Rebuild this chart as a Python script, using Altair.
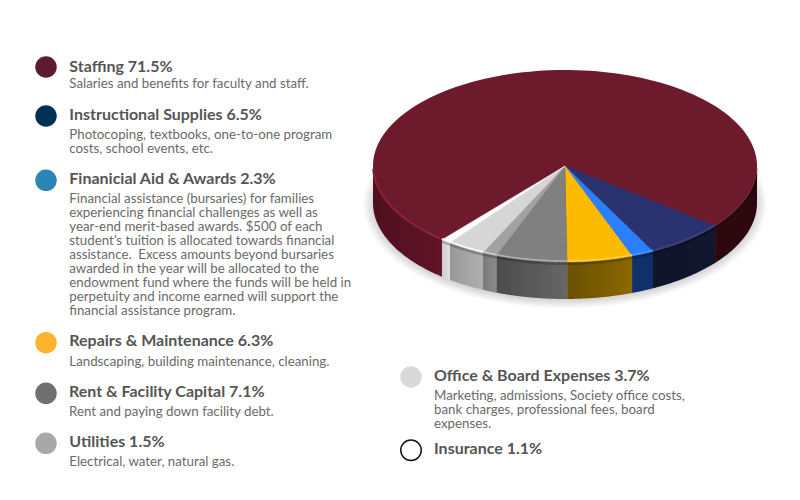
import altair as alt
import numpy as np
import pandas as pd

# ---- data -----------------------------------------------------------------
categories = ["Staffing", "Instructional Supplies", "Finanicial Aid & Awards",
              "Repairs & Maintenance", "Rent & Facility Capital", "Utilities",
              "Office & Board Expenses", "Insurance"]
label_shares = [71.5, 6.5, 2.3, 6.3, 7.1, 1.5, 3.7, 1.1]
# share of the disc each slice visibly takes in the drawing, clockwise from the navy slice
drawn_order = ["Instructional Supplies", "Finanicial Aid & Awards", "Repairs & Maintenance",
               "Rent & Facility Capital", "Utilities", "Office & Board Expenses",
               "Insurance", "Staffing"]
drawn_shares = [6.7, 1.9, 5.5, 6.0, 1.2, 3.2, 0.85, 74.65]
descriptions = [
    ["Salaries and benefits for faculty and staff."],
    ["Photocoping, textbooks, one-to-one program", "costs, school events, etc."],
    ["Financial assistance (bursaries) for families",
     "experiencing financial challenges as well as",
     "year-end merit-based awards. $500 of each",
     "student\u2019s tuition is allocated towards financial",
     "assistance.\u00a0 Excess amounts beyond bursaries",
     "awarded in the year will be allocated to the",
     "endowment fund where the funds will be held in",
     "perpetuity and income earned will support the",
     "financial assistance program."],
    ["Landscaping, building maintenance, cleaning."],
    ["Rent and paying down facility debt."],
    ["Electrical, water, natural gas."],
    ["Marketing, admissions, Society office costs,",
     "bank charges, professional fees, board", "expenses."],
    [],
]

# ---- styles ---------------------------------------------------------------
dot_colors = ["#5c1a33", "#003153", "#2a86b5", "#ffb32e", "#707070", "#a8a8a8", "#d9d9d9", "#ffffff"]
top_colors = {"Staffing": "#6d1a2d", "Instructional Supplies": "#2a336f",
              "Finanicial Aid & Awards": "#2a7fff", "Repairs & Maintenance": "#fdbb00",
              "Rent & Facility Capital": "#808080", "Utilities": "#a2a2a2",
              "Office & Board Expenses": "#d6d6d6", "Insurance": "#ffffff"}
side_colors = {"Instructional Supplies": ("#11162f", "#10152b"),
               "Finanicial Aid & Awards": ("#10306a", "#10306a"),
               "Repairs & Maintenance": ("#8a6800", "#6a5100"),
               "Rent & Facility Capital": ("#666666", "#4c4c4c"),
               "Utilities": ("#8a8a8a", "#7a7a7a"),
               "Office & Board Expenses": ("#b0b0b0", "#989898"),
               "Insurance": ("#e2e2e2", "#cccccc")}
rim_colors = {"Repairs & Maintenance": "#ffd24d", "Rent & Facility Capital": "#b4b4b4",
              "Utilities": "#d0d0d0", "Office & Board Expenses": "#ffffff",
              "Insurance": "#ffffff", "Finanicial Aid & Awards": "#4a95ff",
              "Instructional Supplies": "#3a4585"}
TITLE_FONT, BODY_FONT = "Lato", "Lato"
TITLE_COLOR, BODY_COLOR = "#555555", "#6a6a6a"

# ---- canvas ---------------------------------------------------------------
W, H = 784, 484
X = alt.X("x:Q", scale=alt.Scale(domain=[8, 8 + W], range=[0, W], nice=False, zero=False), axis=None)
Y = alt.Y("y:Q", scale=alt.Scale(domain=[8, 8 + H], range=[0, H], nice=False, zero=False), axis=None)
CX, CY, RX, RY, DEPTH = 565.0, 166.0, 192.0, 96.0, 37.0


def rim(a, b, dy=0.0, rx=RX, ry=RY, n=60):
    t = np.radians(np.linspace(a, b, n))
    return CX + rx * np.cos(t), CY + dy + ry * np.sin(t)


def poly(xs, ys, **mark):
    df = pd.DataFrame({"x": xs, "y": ys, "i": np.arange(len(xs))})
    return alt.Chart(df).mark_line(interpolate="linear-closed", clip=False, **mark).encode(
        x=X, y=Y, order=alt.Order("i:Q"))


def path(xs, ys, **mark):
    df = pd.DataFrame({"x": xs, "y": ys, "i": np.arange(len(xs))})
    return alt.Chart(df).mark_line(**mark).encode(x=X, y=Y, order=alt.Order("i:Q"))


def hgrad(c0, c1):
    return alt.Gradient(gradient="linear", x1=0, x2=1, y1=0, y2=0,
                        stops=[alt.GradientStop(color=c0, offset=0),
                               alt.GradientStop(color=c1, offset=1)])


def wall(a, b, fill):
    x0, y0 = rim(a, b)
    x1, y1 = rim(b, a, DEPTH)
    return poly(np.r_[x0, x1], np.r_[y0, y1], fill=fill, strokeWidth=0)


# ---- pie: slice boundaries from the drawn shares ---------------------------
edges = np.r_[0, np.cumsum(drawn_shares)] * 3.6
start = 38.6
spans = {c: (start + edges[i], start + edges[i + 1]) for i, c in enumerate(drawn_order)}

layers = []
# soft shadow
for k in range(7):
    xs, ys = rim(0, 360, DEPTH + 1.5, RX + k * 1.6, RY + k * 1.3, 120)
    layers.append(poly(xs[:-1], ys[:-1], fill="#000000", fillOpacity=0.022, strokeWidth=0))

# side walls
for c in drawn_order[:-1]:
    layers.append(wall(*spans[c], hgrad(side_colors[c][1], side_colors[c][0])))
a_staff, b_staff = spans["Staffing"]
layers.append(wall(a_staff, 180, hgrad("#4f0f20", "#611426")))
layers.append(wall(0, start, hgrad("#2e0810", "#2b080e")))

# dark band just below the rim on the side walls
x_b, y_b = rim(0, a_staff, 1.8, n=120)
layers.append(path(x_b, y_b, stroke="#000000", strokeWidth=2.5, opacity=0.22))

# top surface: full disc in staffing colour, the smaller slices as wedges on it
xs, ys = rim(0, 360, n=180)
layers.append(poly(xs[:-1], ys[:-1], fill=top_colors["Staffing"], strokeWidth=0))
for c in drawn_order[:-1]:
    a, b = spans[c]
    xr, yr = rim(a, b)
    layers.append(poly(np.r_[CX, xr], np.r_[CY, yr], fill=top_colors[c],
                       stroke=top_colors[c], strokeWidth=0.4))

# rim highlights
for c, col in rim_colors.items():
    a, b = spans[c]
    xr, yr = rim(a, b, -1.0)
    layers.append(path(xr, yr, stroke=col, strokeWidth=1.6, opacity=0.9))
xr, yr = rim(a_staff + 1, 178, -0.6)
layers.append(path(xr, yr, stroke="#8c2138", strokeWidth=2.0, opacity=0.9))


# ---- legend ---------------------------------------------------------------
def text(x, y, s, size, color, font, weight="normal"):
    return alt.Chart(pd.DataFrame({"t": [s]})).mark_text(
        align="left", baseline="alphabetic", x=x - 8, y=y - 8, fontSize=size,
        font=font, fontWeight=weight, color=color).encode(text="t:N")


def dot(x, y, color, outline=False):
    base = alt.Chart(pd.DataFrame({"d": [0]}))
    if outline:
        return base.mark_point(x=x - 8, y=y - 8, size=420, filled=False, shape="circle",
                               stroke="#111111", strokeWidth=1.5, opacity=1, fill=color).encode()
    return base.mark_point(x=x - 8, y=y - 8, size=462, filled=True, shape="circle",
                           color=color, opacity=1).encode()


# layout: dot x, dot y, text x, title baseline, first description baseline
legend_layout = [
    (46, 67, 69.3, 71.7, 88.3),
    (46, 116, 69.3, 119.5, 139.3),
    (46, 180.3, 69.3, 184.3, 203.3),
    (46, 342.7, 69.3, 345.9, 366),
    (46, 393.3, 69, 396.9, 416),
    (46, 443.3, 69.3, 446.9, 465.7),
    (411, 377, 434, 381, 400),
    (411, 450.3, 434, 454.3, 0),
]
for i, (dx, dy, tx, ty, by) in enumerate(legend_layout):
    layers.append(dot(dx, dy, dot_colors[i], outline=categories[i] == "Insurance"))
    layers.append(text(tx, ty, f"{categories[i]} {label_shares[i]}%", 16, TITLE_COLOR, TITLE_FONT, "bold"))
    for j, line in enumerate(descriptions[i]):
        layers.append(text(tx, by + j * 14.0, line, 13.3, BODY_COLOR, BODY_FONT))

chart = alt.layer(*layers).properties(width=W, height=H, padding=0, background="#ffffff").configure_view(
    stroke=None)
chart.save("out.html", embed_options={"renderer": "svg", "actions": False})
